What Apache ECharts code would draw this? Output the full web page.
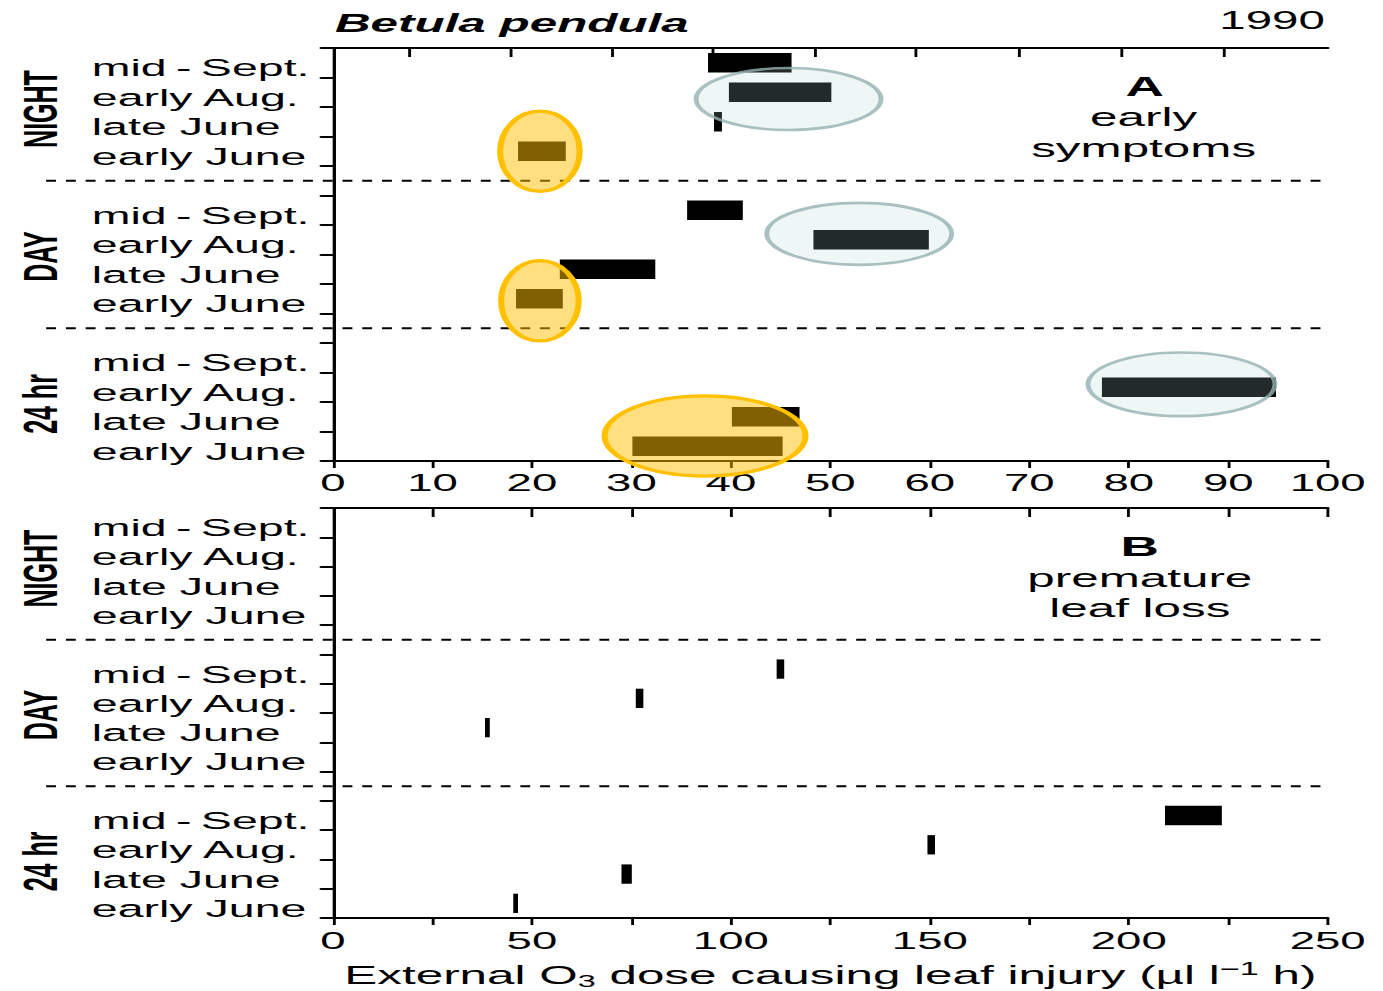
<!DOCTYPE html>
<html>
<head>
<meta charset="utf-8">
<script src="https://cdn.jsdelivr.net/npm/echarts@6/dist/echarts.min.js"></script>
<style>
  html, body { margin: 0; padding: 0; background: #fff; overflow: hidden; }
  /* the figure is typeset wide: draw at 728px and stretch horizontally */
  #chart { width: 728px; height: 991px; transform: scaleX(1.8997); transform-origin: 0 0; }
</style>
</head>
<body>
<div id="chart"></div>
<script>
// Sampling dates inside each exposure group (top to bottom)
const rowLabels = ['mid\u2009-\u2009Sept.', 'early Aug.', 'late June', 'early June'];
// Exposure groups
const groupLabels = ['NIGHT', 'DAY', '24 hr'];

// A: external O3 dose range (µl l-1 h) at which early symptoms appeared
const symptomsNight = [[37.7, 46.1], [39.8, 50.1], [38.3, 39.1], [18.6, 23.4]];
const symptomsDay   = [[35.6, 41.2], [48.3, 59.9], [22.8, 32.4], [18.4, 23.1]];
const symptoms24h   = [null, [77.3, 94.8], [40.1, 46.9], [30.1, 45.2]];

// B: external O3 dose range at premature leaf loss
const leafLossNight = [null, null, null, null];
const leafLossDay   = [[111.5, 113.4], [76.1, 78.0], [38.2, 39.4], null];
const leafLoss24h   = [[209.1, 223.4], [149.4, 151.3], [72.5, 75.1], [45.3, 46.5]];

// Tick values
const ticksA = [0, 10, 20, 30, 40, 50, 60, 70, 80, 90, 100];
const topTicksA = [7.7, 17.9, 28.1, 38.2, 48.5, 58.6, 69.0, 79.3, 89.6];
const ticksB = [0, 50, 100, 150, 200, 250];

// Highlight rings on panel A: [centre dose, row slot, half-width in dose units, half-height in rows]
const goldRings = [[20.8, 3.0, 4.0, 1.36], [20.8, 8.07, 3.9, 1.36], [37.4, 12.65, 10.1, 1.36]];
const greyRings = [[45.8, 1.23, 9.3, 1.05], [52.9, 5.8, 9.3, 1.05], [85.3, 10.9, 9.4, 1.08]];

const FONT = '"Liberation Sans", Arial, Helvetica, sans-serif';
const INK = '#000';
const PER_GROUP = rowLabels.length + 1;   // rows plus one spacer slot

// y categories: groups of rows separated by an empty slot
const slots = [];
groupLabels.forEach((g, gi) => {
  if (gi > 0) slots.push('');
  rowLabels.forEach(r => slots.push(r));
});

function rangeData(groups) {
  const out = [];
  groups.forEach((rows, gi) => rows.forEach((r, ri) => {
    if (r) out.push([r[0], r[1], gi * PER_GROUP + ri]);
  }));
  return out;
}

function renderRange(params, api) {
  const slot = api.value(2);
  const a = api.coord([api.value(0), slot]);
  const b = api.coord([api.value(1), slot]);
  const h = api.size([0, 1])[1] * 0.66;
  return {
    type: 'rect',
    shape: { x: a[0], y: a[1] - h / 2, width: Math.max(b[0] - a[0], 1), height: h },
    style: { fill: INK }
  };
}

function ringRenderer(fill, stroke, width) {
  return function (params, api) {
    const cx = api.value(0);
    const p0 = api.coord([cx, 0]);
    const p1 = api.coord([cx, 1]);
    const band = p1[1] - p0[1];
    const rx = api.size([api.value(2), 0])[0];
    return {
      type: 'ellipse',
      shape: { cx: p0[0], cy: p0[1] + api.value(1) * band, rx: rx, ry: api.value(3) * band },
      style: { fill: fill, stroke: stroke, lineWidth: width }
    };
  };
}

// short inward ticks hanging from the top frame line
function renderTopTick(params, api) {
  const v = api.value(0);
  const p0 = api.coord([v, 0]);
  const p1 = api.coord([v, 1]);
  const top = p0[1] - (p1[1] - p0[1]) / 2;
  return {
    type: 'line',
    shape: { x1: p0[0], y1: top, x2: p0[0], y2: top + 9 },
    style: { stroke: INK, lineWidth: 1.5 }
  };
}

const LABEL_GUTTER = 151;   // how far separators run left of the plot
const GROUP_LABEL_OFFSET = 154;

function renderSeparator(params, api) {
  const slot = api.value(1);
  const a = api.coord([api.value(0), slot]);
  const b = api.coord([api.value(2), slot]);
  return {
    type: 'line',
    shape: { x1: a[0] - LABEL_GUTTER, y1: a[1], x2: b[0], y2: b[1] },
    style: { stroke: INK, lineWidth: 2, lineDash: [5.2, 5.2] }
  };
}

function renderGroupLabel(params, api) {
  const slot = api.value(1);
  const a = api.coord([api.value(0), slot]);
  const b = api.coord([api.value(0), slot + 1]);
  return {
    type: 'text',
    x: a[0] - GROUP_LABEL_OFFSET,
    y: (a[1] + b[1]) / 2 + 2,
    rotation: Math.PI / 2,
    style: {
      text: groupLabels[api.value(2)],
      fill: INK, fontSize: 25, fontWeight: 'bold', fontFamily: FONT,
      align: 'center', verticalAlign: 'middle'
    }
  };
}

function panelSeries(gridIdx, xMin, xMax, groups, withRings) {
  const xi = gridIdx * 2, yi = gridIdx * 2;
  const list = [];
  list.push({
    type: 'custom', xAxisIndex: xi, yAxisIndex: yi, silent: true, clip: false, z: 2,
    dimensions: [{ name: 'x0', type: 'float' }, { name: 'slot', type: 'float' }, { name: 'x1', type: 'float' }],
    encode: { x: 0, y: 1 },
    renderItem: renderSeparator,
    data: groupLabels.slice(1).map((g, i) => [xMin, (i + 1) * PER_GROUP - 1, xMax])
  });
  list.push({
    type: 'custom', xAxisIndex: xi, yAxisIndex: yi, silent: true, clip: false, z: 2,
    dimensions: [{ name: 'x', type: 'float' }, { name: 'slot', type: 'float' }, { name: 'g', type: 'int' }],
    encode: { x: 0, y: 1 },
    renderItem: renderGroupLabel,
    data: groupLabels.map((g, gi) => [xMin, gi * PER_GROUP + 1, gi])
  });
  list.push({
    type: 'custom', xAxisIndex: xi, yAxisIndex: yi, silent: true, clip: false, z: 3,
    dimensions: [{ name: 'start', type: 'float' }, { name: 'end', type: 'float' }, { name: 'slot', type: 'float' }],
    encode: { x: [0, 1], y: 2 },
    renderItem: renderRange,
    data: rangeData(groups)
  });
  if (withRings) {
    list.push({
      type: 'custom', xAxisIndex: xi, yAxisIndex: yi, silent: true, clip: false, z: 2,
      dimensions: [{ name: 'v', type: 'float' }, { name: 'slot', type: 'float' }],
      encode: { x: 0, y: 1 },
      renderItem: renderTopTick,
      data: topTicksA.map(v => [v, 0])
    });
    list.push({
      type: 'custom', xAxisIndex: xi, yAxisIndex: yi, silent: true, clip: false, z: 5,
      dimensions: [{ name: 'cx', type: 'float' }, { name: 'slot', type: 'float' },
                   { name: 'rx', type: 'float' }, { name: 'ry', type: 'float' }],
      encode: { x: 0, y: 1 },
      renderItem: ringRenderer('rgba(170,208,208,0.2)', 'rgba(150,178,178,0.8)', 2.6),
      data: greyRings
    });
    list.push({
      type: 'custom', xAxisIndex: xi, yAxisIndex: yi, silent: true, clip: false, z: 6,
      dimensions: [{ name: 'cx', type: 'float' }, { name: 'slot', type: 'float' },
                   { name: 'rx', type: 'float' }, { name: 'ry', type: 'float' }],
      encode: { x: 0, y: 1 },
      renderItem: ringRenderer('rgba(255,192,0,0.5)', '#ffc000', 3.2),
      data: goldRings
    });
  }
  return list;
}

const axisLine = { show: true, lineStyle: { color: INK, width: 2 } };
const vAxisLine = { show: true, lineStyle: { color: INK, width: 1.6 } };

function leftAxis(gridIndex) {
  return {
    gridIndex, type: 'category', data: slots, inverse: true,
    axisLine: vAxisLine,
    axisTick: { show: true, interval: 0, length: 6, lineStyle: { color: INK, width: 1.8 } },
    axisLabel: {
      show: true, interval: 0, align: 'left', margin: 127, color: INK,
      fontSize: 24.5, fontFamily: FONT, verticalAlign: 'top', lineHeight: 10
    },
    splitLine: { show: false }
  };
}
function rightAxis(gridIndex) {
  return {
    gridIndex, type: 'category', data: slots, inverse: true, position: 'right',
    axisLine: vAxisLine,
    axisTick: { show: true, interval: 0, inside: true, length: 7, lineStyle: { color: INK, width: 1.8 } },
    axisLabel: { show: false },
    splitLine: { show: false }
  };
}

const chart = echarts.init(document.getElementById('chart'), null, { renderer: 'svg' });

chart.setOption({
  animation: false,
  backgroundColor: '#fff',
  grid: [
    { left: 175.3, right: 29.1, top: 48, height: 413 },
    { left: 175.3, right: 29.1, top: 508, height: 410 }
  ],
  xAxis: [
    {
      gridIndex: 0, type: 'value', position: 'bottom',
      min: ticksA[0], max: ticksA[ticksA.length - 1], interval: ticksA[1] - ticksA[0],
      axisLine: axisLine,
      axisTick: { show: true, length: 7, lineStyle: { color: INK, width: 1.5 } },
      axisLabel: { show: true, margin: 10, color: INK, fontSize: 24, fontFamily: FONT },
      splitLine: { show: false }
    },
    {
      gridIndex: 0, type: 'value', position: 'top',
      min: ticksA[0], max: ticksA[ticksA.length - 1],
      axisLine: axisLine,
      axisTick: { show: false },
      axisLabel: { show: false },
      splitLine: { show: false }
    },
    {
      gridIndex: 1, type: 'value', position: 'bottom',
      min: ticksB[0], max: ticksB[ticksB.length - 1], interval: ticksB[1] - ticksB[0],
      axisLine: axisLine,
      axisTick: { show: true, length: 7, lineStyle: { color: INK, width: 1.5 } },
      minorTick: { show: true, splitNumber: 2, length: 7, lineStyle: { color: INK, width: 1.5 } },
      axisLabel: { show: true, margin: 11, color: INK, fontSize: 24, fontFamily: FONT },
      splitLine: { show: false },
      name: '{n|External O}{s|3}{n| dose causing leaf injury (µl l}{p|−1}{n| h)}',
      nameLocation: 'middle',
      nameGap: 42,
      nameTextStyle: {
        color: INK, fontSize: 26, fontFamily: FONT,
        rich: {
          n: { color: INK, fontSize: 26, fontFamily: FONT, lineHeight: 30 },
          s: { color: INK, fontSize: 17, fontFamily: FONT, lineHeight: 17, verticalAlign: 'bottom' },
          p: { color: INK, fontSize: 18, fontFamily: FONT, lineHeight: 17, verticalAlign: 'top' }
        }
      }
    },
    {
      gridIndex: 1, type: 'value', position: 'top',
      min: ticksB[0], max: ticksB[ticksB.length - 1], interval: (ticksB[1] - ticksB[0]) / 2,
      axisLine: axisLine,
      axisTick: { show: true, inside: true, length: 9, lineStyle: { color: INK, width: 1.5 } },
      axisLabel: { show: false },
      splitLine: { show: false }
    }
  ],
  yAxis: [leftAxis(0), rightAxis(0), leftAxis(1), rightAxis(1)],
  series: [].concat(
    panelSeries(0, ticksA[0], ticksA[ticksA.length - 1], [symptomsNight, symptomsDay, symptoms24h], true),
    panelSeries(1, ticksB[0], ticksB[ticksB.length - 1], [leafLossNight, leafLossDay, leafLoss24h], false)
  ),
  graphic: [
    { type: 'text', x: 176.3, y: 23, silent: true,
      style: { text: 'Betula pendula', fill: INK, fontFamily: FONT, fontSize: 26,
               fontWeight: 'bold', fontStyle: 'italic', align: 'left', verticalAlign: 'middle' } },
    { type: 'text', x: 697.4, y: 20, silent: true,
      style: { text: '1990', fill: INK, fontFamily: FONT, fontSize: 25, align: 'right', verticalAlign: 'middle' } },
    { type: 'text', x: 602.6, y: 86, silent: true,
      style: { text: 'A', fill: INK, fontFamily: FONT, fontSize: 28, fontWeight: 'bold', align: 'center', verticalAlign: 'middle' } },
    { type: 'text', x: 602.0, y: 117, silent: true,
      style: { text: 'early', fill: INK, fontFamily: FONT, fontSize: 26, align: 'center', verticalAlign: 'middle' } },
    { type: 'text', x: 602.0, y: 148, silent: true,
      style: { text: 'symptoms', fill: INK, fontFamily: FONT, fontSize: 26, align: 'center', verticalAlign: 'middle' } },
    { type: 'text', x: 600.0, y: 546, silent: true,
      style: { text: 'B', fill: INK, fontFamily: FONT, fontSize: 28, fontWeight: 'bold', align: 'center', verticalAlign: 'middle' } },
    { type: 'text', x: 600.0, y: 578, silent: true,
      style: { text: 'premature', fill: INK, fontFamily: FONT, fontSize: 26, align: 'center', verticalAlign: 'middle' } },
    { type: 'text', x: 600.0, y: 608, silent: true,
      style: { text: 'leaf loss', fill: INK, fontFamily: FONT, fontSize: 26, align: 'center', verticalAlign: 'middle' } }
  ]
});
</script>
</body>
</html>
